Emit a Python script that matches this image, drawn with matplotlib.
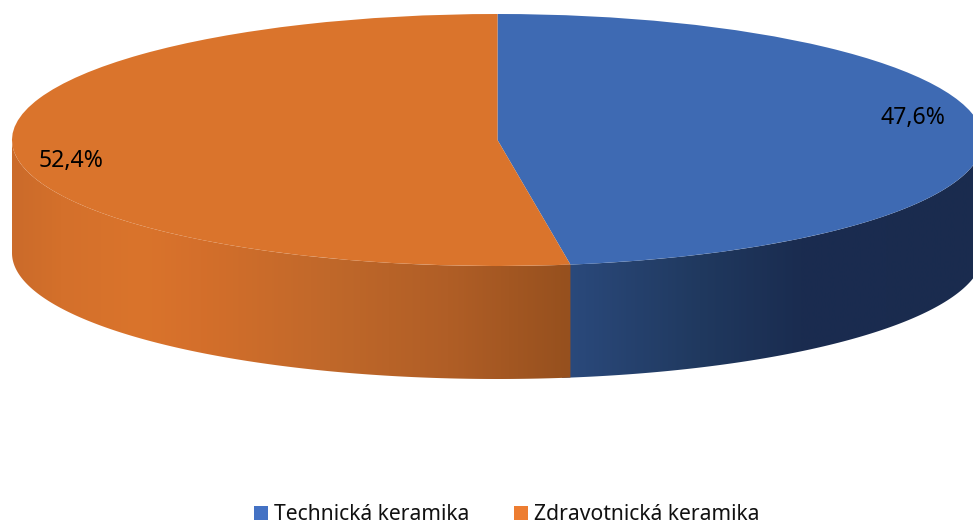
import matplotlib
matplotlib.use("Agg")
import matplotlib.pyplot as plt
import numpy as np
from matplotlib.colors import LinearSegmentedColormap
from matplotlib.patches import Polygon

plt.rcParams["font.family"] = ["Noto Sans", "DejaVu Sans"]

CATEGORIES = ["Technická keramika", "Zdravotnická keramika"]
VALUES = [47.6, 52.4]
VALUE_LABELS = ["47,6%", "52,4%"]

WIDTH, HEIGHT = 973, 524
CX, CY = 497.5, 140
RX, RY = 485.5, 126
DEPTH = 113

TOP_COLORS = ["#3e6ab3", "#da742c"]
LEGEND_COLORS = ["#4472c4", "#ed7d31"]
WALL_STOPS = [
    [(560, "#2b4a7d"), (700, "#20395f"), (800, "#1a2c50"), (973, "#1a2b4e")],
    [(12, "#cb6b2a"), (60, "#d4702b"), (140, "#da742c"), (200, "#d46f2b"),
     (330, "#c0682a"), (450, "#b05e26"), (571, "#96501e")],
]
LABEL_POS = [(913, 118), (71, 161)]


def px(x, y):
    # picture pixels to pie units
    return (x - CX) / RX, (CY - y) / RY


def draw_wall(ax, start, end, stops, zorder):
    # start, end are clockwise degrees from the top of the pie
    angles = np.radians(np.linspace(start, end, 200))
    xs = np.sin(angles)
    ys = np.cos(angles)
    drop = DEPTH / RY
    points = np.concatenate([np.column_stack([xs, ys]), np.column_stack([xs, ys - drop])[::-1]])
    clip = Polygon(points, closed=True, facecolor="none", edgecolor="none", transform=ax.transData)
    ax.add_patch(clip)

    x0, x1 = stops[0][0], stops[-1][0]
    cmap = LinearSegmentedColormap.from_list(
        "wall", [((x - x0) / (x1 - x0), color) for x, color in stops]
    )
    left, top = px(x0, 0)
    right, bottom = px(x1, HEIGHT)
    image = ax.imshow(
        np.linspace(0, 1, 600).reshape(1, -1),
        cmap=cmap,
        extent=(left, right, bottom, top),
        aspect="auto",
        zorder=zorder,
        interpolation="bilinear",
    )
    image.set_clip_path(clip)


fig = plt.figure(figsize=(WIDTH / 100, HEIGHT / 100), dpi=100)
ax = fig.add_axes([0, 0, 1, 1])

wedges, _ = ax.pie(
    VALUES,
    colors=TOP_COLORS,
    startangle=90,
    counterclock=False,
    radius=1,
    wedgeprops={"linewidth": 0, "zorder": 3},
)

boundary = 360 * VALUES[0] / sum(VALUES)
# blue runs a little under the orange so no seam shows between them
draw_wall(ax, 90, boundary + 1, WALL_STOPS[0], 1)
draw_wall(ax, boundary, 270, WALL_STOPS[1], 2)

ax.set_aspect("auto")
ax.set_xlim(px(0, 0)[0], px(WIDTH, 0)[0])
ax.set_ylim(px(0, HEIGHT)[1], px(0, 0)[1])
ax.axis("off")

for label, (x, y) in zip(VALUE_LABELS, LABEL_POS):
    ax.text(*px(x, y), label, fontsize=16.6, color="#000000", ha="center", va="center", zorder=5)

handles = [plt.Rectangle((0, 0), 1, 1, facecolor=c, edgecolor="none") for c in LEGEND_COLORS]
fig.legend(
    handles,
    CATEGORIES,
    ncol=2,
    loc="center",
    bbox_to_anchor=(507 / WIDTH, 1 - 515 / HEIGHT),
    frameon=False,
    fontsize=15.2,
    handlelength=0.66,
    handleheight=0.66,
    handletextpad=0.3,
    columnspacing=2.1,
    borderpad=0,
    labelcolor="#111111",
)

fig.savefig("out.png", dpi=100)
plt.close(fig)
